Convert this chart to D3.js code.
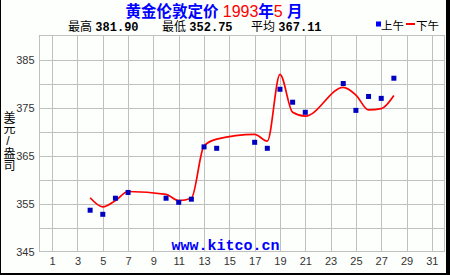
<!DOCTYPE html>
<html><head><meta charset="utf-8">
<script src="https://cdn.jsdelivr.net/npm/d3@7"></script>
<style>html,body{margin:0;padding:0;background:#fff;}svg{display:block;}</style>
</head><body>
<script>
const days = [4,5,6,7,10,11,12,13,14,17,18,19,20,21,24,25,26,27,28];
const amValues = [353.6,352.75,356.1,357.3,356.1,355.25,355.9,366.8,366.5,367.75,366.5,378.8,376.1,374.0,380.0,374.4,377.3,376.9,381.1];
const pmValues = [356.2,354.3,355.6,357.5,356.9,355.6,356.1,367.0,368.4,369.4,368.0,381.9,374.0,373.2,379.2,377.6,374.5,374.75,377.5];
const xTicks = [1,3,5,7,9,11,13,15,17,19,21,23,25,27,29,31];
const yTicks = [345,355,365,375,385];
const yGrid = [350,355,360,365,370,375,380,385];

const W = 450, H = 275;
const svg = d3.select("body").append("svg").attr("width", W).attr("height", H);
svg.append("rect").attr("width", W).attr("height", H).attr("fill", "#fdfffd");

const x = d3.scaleLinear().domain([0, 32]).range([39.5, 444.5]);
const y = d3.scaleLinear().domain([345, 390]).range([251.5, 35.5]);

const grid = svg.append("g").attr("stroke", "#c0c0c0").attr("stroke-width", 1).attr("shape-rendering", "crispEdges");
xTicks.forEach(d => grid.append("line").attr("x1", Math.round(x(d)) + 0.5).attr("x2", Math.round(x(d)) + 0.5).attr("y1", y(390)).attr("y2", y(345)));
yGrid.forEach(d => grid.append("line").attr("x1", x(0)).attr("x2", x(32)).attr("y1", Math.round(y(d)) + 0.5).attr("y2", Math.round(y(d)) + 0.5));
grid.append("rect").attr("x", x(0)).attr("y", y(390)).attr("width", x(32) - x(0)).attr("height", y(345) - y(390)).attr("fill", "none");

const xAxis = svg.append("g").attr("transform", `translate(0,${y(345)})`)
  .call(d3.axisBottom(x).tickValues(xTicks).tickSize(0).tickPadding(5).tickFormat(d3.format("d")));
xAxis.select(".domain").remove();
xAxis.selectAll("text").attr("font-family", "Liberation Sans, Arial, sans-serif").attr("font-size", 11).attr("fill", "#333").attr("dy", "0.75em");

const yAxis = svg.append("g").attr("transform", `translate(${x(0)},0)`)
  .call(d3.axisLeft(y).tickValues(yTicks).tickSize(0).tickPadding(5).tickFormat(d3.format("d")));
yAxis.select(".domain").remove();
yAxis.selectAll("text").attr("font-family", "Liberation Sans, Arial, sans-serif").attr("font-size", 11).attr("fill", "#333");

svg.append("text").attr("x", 225.5).attr("y", 250).attr("text-anchor", "middle")
  .attr("font-family", "Liberation Mono, DejaVu Sans Mono, monospace").attr("font-weight", "bold")
  .attr("font-size", 15).attr("fill", "#0000ff").text("www.kitco.cn");

const line = d3.line().x((d, i) => x(days[i])).y(d => y(d)).curve(d3.curveMonotoneX);
svg.append("path").datum(pmValues).attr("d", line).attr("fill", "none").attr("stroke", "#ff0000").attr("stroke-width", 1.7);

svg.append("g").selectAll("rect").data(amValues).join("rect")
  .attr("x", (d, i) => x(days[i]) - 2.5).attr("y", d => y(d) - 2.5)
  .attr("width", 5).attr("height", 5).attr("fill", "#0000c0");

const cjk = "'Liberation Sans', 'Noto Sans CJK SC', sans-serif";
const t = svg.append("text").attr("x", 214).attr("y", 16.5).attr("text-anchor", "middle")
  .attr("font-family", cjk).attr("font-size", 15.5).attr("font-weight", "bold");
t.append("tspan").attr("fill", "#0000ff").text("黄金伦敦定价 ");
t.append("tspan").attr("fill", "#ff0000").attr("font-weight", "normal").attr("font-size", 16).text("1993");
t.append("tspan").attr("fill", "#0000ff").text("年");
t.append("tspan").attr("fill", "#ff0000").attr("font-weight", "normal").attr("font-size", 16).text("5");
t.append("tspan").attr("fill", "#0000ff").text(" 月");

const stats = [["最高", "381.90", 68], ["最低", "352.75", 162], ["平均", "367.11", 251]];
stats.forEach(s => {
  const tx = svg.append("text").attr("x", s[2]).attr("y", 30.7).attr("font-size", 12).attr("fill", "#000");
  tx.append("tspan").attr("font-family", cjk).text(s[0] + " ");
  tx.append("tspan").attr("font-family", "Liberation Mono, monospace").attr("font-weight", "bold").text(s[1]);
});

svg.append("rect").attr("x", 376).attr("y", 21.5).attr("width", 5).attr("height", 5).attr("fill", "#0000ff");
svg.append("text").attr("x", 381).attr("y", 30).attr("font-family", cjk).attr("font-size", 11.5).attr("fill", "#000").text("上午");
svg.append("rect").attr("x", 406).attr("y", 23).attr("width", 9).attr("height", 2).attr("fill", "#ff0000");
svg.append("text").attr("x", 416).attr("y", 30).attr("font-family", cjk).attr("font-size", 11.5).attr("fill", "#000").text("下午");

svg.append("text").attr("x", 8).attr("y", 111).attr("font-family", cjk).attr("font-size", 12).attr("fill", "#000")
  .style("writing-mode", "vertical-rl").style("text-orientation", "upright").style("letter-spacing", "-0.5px")
  .text("美元/盎司");

svg.append("rect").attr("x", 0).attr("y", 0).attr("width", 1).attr("height", H).attr("fill", "#000");
svg.append("rect").attr("x", 0).attr("y", 273).attr("width", W).attr("height", 2).attr("fill", "#000");
svg.append("rect").attr("x", 446).attr("y", 0).attr("width", 4).attr("height", H).attr("fill", "#000");
</script>
</body></html>
